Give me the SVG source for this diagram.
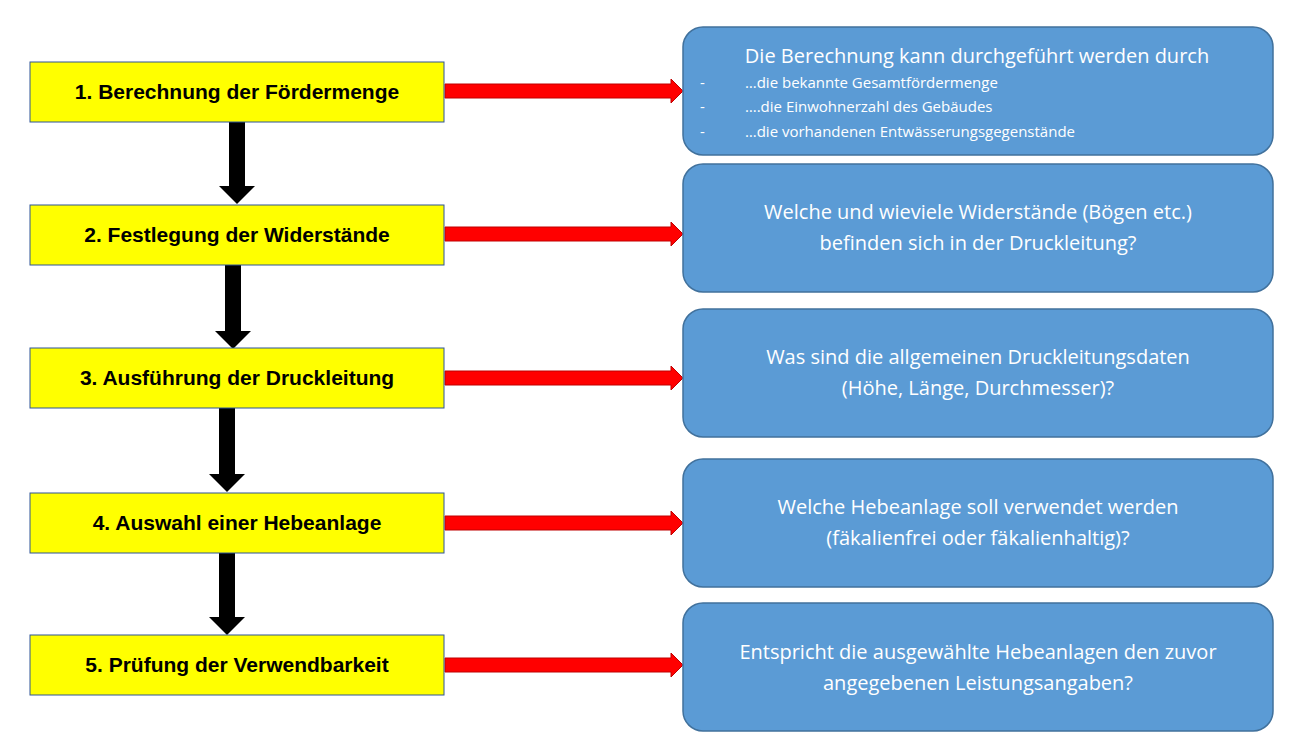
<svg xmlns="http://www.w3.org/2000/svg" width="1316" height="752" viewBox="0 0 1316 752">
<style>
.y{fill:#ffff00;stroke:#2f5597;stroke-width:1}
.b{fill:#5b9bd5;stroke:#41719c;stroke-width:1.5}
.yt{font-family:"Liberation Sans",sans-serif;font-weight:bold;font-size:21px;fill:#000;text-anchor:middle}
.bt{font-family:"Open Sans","Liberation Sans",sans-serif;font-size:20px;fill:#fff;text-anchor:middle}
.st{font-family:"Open Sans","Liberation Sans",sans-serif;font-size:15px;fill:#fff}
.ra{fill:#ff0000;stroke:#c00000;stroke-width:1}
.ka{fill:#000}
</style>
<rect width="1316" height="752" fill="#fff"/>
<g id="connectors">
<polygon class="ra" points="445,84 671,84 671,79 683,91 671,103 671,98 445,98"/>
<polygon class="ra" points="445,227 671,227 671,222 683,234 671,246 671,241 445,241"/>
<polygon class="ra" points="445,371 671,371 671,366 683,378 671,390 671,385 445,385"/>
<polygon class="ra" points="445,516 671,516 671,511 683,523 671,535 671,530 445,530"/>
<polygon class="ra" points="445,658 671,658 671,653 683,665 671,677 671,672 445,672"/>
<polygon class="ka" points="229,122 245,122 245,186 255,186 237,204 219,186 229,186"/>
<polygon class="ka" points="225,265 241,265 241,331 251,331 233,349 215,331 225,331"/>
<polygon class="ka" points="219,408 235,408 235,474 245,474 227,492 209,474 219,474"/>
<polygon class="ka" points="219,553 235,553 235,617 245,617 227,635 209,617 219,617"/>
</g>
<g id="n1"><rect class="y" x="30" y="62" width="414" height="60"/><text class="yt" x="237" y="99">1. Berechnung der Fördermenge</text></g>
<g id="n2"><rect class="y" x="30" y="205" width="414" height="60"/><text class="yt" x="237" y="242">2. Festlegung der Widerstände</text></g>
<g id="n3"><rect class="y" x="30" y="348" width="414" height="60"/><text class="yt" x="237" y="385">3. Ausführung der Druckleitung</text></g>
<g id="n4"><rect class="y" x="30" y="493" width="414" height="60"/><text class="yt" x="237" y="530">4. Auswahl einer Hebeanlage</text></g>
<g id="n5"><rect class="y" x="30" y="635" width="414" height="60"/><text class="yt" x="237" y="672">5. Prüfung der Verwendbarkeit</text></g>
<g id="d1"><rect class="b" x="683" y="27" width="590" height="128" rx="20"/>
<text class="bt" x="977" y="63">Die Berechnung kann durchgeführt werden durch</text>
<text class="st" x="700" y="88">-</text><text class="st" x="745" y="88">…die bekannte Gesamtfördermenge</text>
<text class="st" x="700" y="112">-</text><text class="st" x="745" y="112">….die Einwohnerzahl des Gebäudes</text>
<text class="st" x="700" y="137">-</text><text class="st" x="745" y="137">…die vorhandenen Entwässerungsgegenstände</text></g>
<g id="d2"><rect class="b" x="683" y="164" width="590" height="128" rx="20"/>
<text class="bt" x="978" y="219">Welche und wieviele Widerstände (Bögen etc.)</text>
<text class="bt" x="978" y="250">befinden sich in der Druckleitung?</text></g>
<g id="d3"><rect class="b" x="683" y="309" width="590" height="128" rx="20"/>
<text class="bt" x="978" y="364">Was sind die allgemeinen Druckleitungsdaten</text>
<text class="bt" x="978" y="395">(Höhe, Länge, Durchmesser)?</text></g>
<g id="d4"><rect class="b" x="683" y="459" width="590" height="128" rx="20"/>
<text class="bt" x="978" y="514">Welche Hebeanlage soll verwendet werden</text>
<text class="bt" x="978" y="545">(fäkalienfrei oder fäkalienhaltig)?</text></g>
<g id="d5"><rect class="b" x="683" y="603" width="590" height="128" rx="20"/>
<text class="bt" x="978" y="659">Entspricht die ausgewählte Hebeanlagen den zuvor</text>
<text class="bt" x="978" y="690">angegebenen Leistungsangaben?</text></g>
</svg>
